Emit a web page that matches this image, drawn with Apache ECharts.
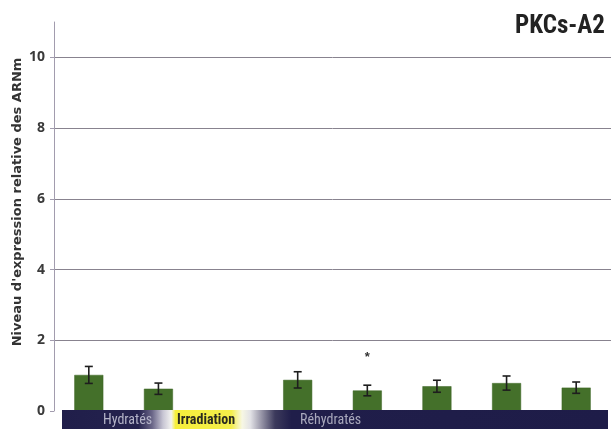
<!DOCTYPE html>
<html>
<head>
<meta charset="utf-8">
<script src="https://cdn.jsdelivr.net/npm/echarts@6/dist/echarts.min.js"></script>
<style>html,body{margin:0;padding:0;background:#fff}#c{width:611px;height:429px}</style>
</head>
<body>
<div id="c"></div>
<script>
var categories = ['Hydratés 1', 'Hydratés 2', 'Irradiation', 'Réhydratés 1', 'Réhydratés 2', 'Réhydratés 3', 'Réhydratés 4', 'Réhydratés 5'];
var values = [1.02, 0.63, null, 0.88, 0.58, 0.70, 0.79, 0.66];
var errors = [0.24, 0.16, null, 0.23, 0.15, 0.17, 0.20, 0.16];
var significance = ['', '', '', '', '*', '', '', ''];
var yTicks = [0, 2, 4, 6, 8, 10];
var title = 'PKCs-A2';
var yName = "Niveau d'expression relative des ARNm";
var bandLabels = ['Hydratés', 'Irradiation', 'Réhydratés'];

var chart = echarts.init(document.getElementById('c'));
var narrow = '"Liberation Sans Narrow", "Roboto Condensed", "Arial Narrow", sans-serif';

var errData = values.map(function (v, i) {
  return v == null ? [i, null, null, ''] : [i, v - errors[i], v + errors[i], significance[i]];
});

chart.setOption({
  animation: false,
  grid: { left: 54, right: -7, top: 22, bottom: 18, containLabel: false },
  xAxis: {
    type: 'category',
    data: categories,
    axisLine: { show: false },
    axisTick: { show: false },
    axisLabel: { show: false },
    splitLine: { show: false }
  },
  yAxis: {
    type: 'value',
    min: 0,
    max: 11,
    interval: 2,
    axisLine: { show: true, lineStyle: { color: '#a29cae', width: 1 } },
    axisTick: { show: true, length: 4, lineStyle: { color: '#a29cae' } },
    axisLabel: {
      margin: 9,
      color: '#3a3a3a',
      fontSize: 14,
      fontWeight: 'bold',
      fontFamily: '"Open Sans", sans-serif',
      showMaxLabel: false,
      formatter: function (v) { return yTicks.indexOf(v) >= 0 ? String(v) : ''; }
    },
    splitLine: { show: true, showMinLine: false, showMaxLine: false, lineStyle: { color: '#88838f', width: 1 } }
  },
  series: [
    {
      type: 'bar',
      data: values,
      barWidth: 29,
      itemStyle: { color: '#44702a', borderColor: '#3a6322', borderWidth: 0.5 },
      z: 2
    },
    {
      type: 'custom',
      data: errData,
      z: 3,
      renderItem: function (params, api) {
        var lo = api.value(1), hi = api.value(2);
        if (lo == null || isNaN(lo)) return { type: 'group', children: [] };
        var pLo = api.coord([api.value(0), lo]);
        var pHi = api.coord([api.value(0), hi]);
        var x = pLo[0], cap = 4;
        var st = { stroke: '#1e1e1e', lineWidth: 1.6 };
        var children = [
          { type: 'line', shape: { x1: x, y1: pLo[1], x2: x, y2: pHi[1] }, style: st },
          { type: 'line', shape: { x1: x - cap, y1: pLo[1], x2: x + cap, y2: pLo[1] }, style: st },
          { type: 'line', shape: { x1: x - cap, y1: pHi[1], x2: x + cap, y2: pHi[1] }, style: st }
        ];
        var sig = errData[params.dataIndex][3];
        if (sig) {
          children.push({ type: 'text', x: x, y: pHi[1] - 28, style: { text: sig, fill: '#333', fontSize: 13, fontWeight: 'bold', align: 'center', verticalAlign: 'middle' } });
        }
        return { type: 'group', children: children };
      }
    }
  ],
  graphic: [
    {
      type: 'text', left: 515, top: 14,
      style: { text: title, fill: '#222', fontSize: 25, fontWeight: 'bold', fontFamily: narrow }
    },
    {
      type: 'text', x: 18, y: 202, rotation: Math.PI / 2,
      style: { text: yName, fill: '#333', fontSize: 13, fontWeight: 'bold', fontFamily: '"DejaVu Sans", sans-serif', align: 'center', verticalAlign: 'middle' }
    },
    {
      type: 'rect', shape: { x: 62, y: 410, width: 546, height: 19 }, z: 10,
      style: {
        fill: new echarts.graphic.LinearGradient(0, 0, 1, 0, [
          { offset: 0, color: '#201e4a' },
          { offset: 0.14, color: '#24224e' },
          { offset: 0.165, color: '#6a6688' },
          { offset: 0.185, color: '#c8c6d4' },
          { offset: 0.2, color: '#f2f2f0' },
          { offset: 0.208, color: '#f6ef3c' },
          { offset: 0.31, color: '#f4ee4a' },
          { offset: 0.33, color: '#f7f7e4' },
          { offset: 0.345, color: '#e2e2e6' },
          { offset: 0.365, color: '#9896a8' },
          { offset: 0.39, color: '#3c3a5c' },
          { offset: 0.42, color: '#201e4a' },
          { offset: 1, color: '#1e1c48' }
        ])
      }
    },
    {
      type: 'text', x: 103, y: 420, z: 11,
      style: { text: bandLabels[0], fill: '#b4b4c8', fontSize: 14, fontFamily: narrow, verticalAlign: 'middle' }
    },
    {
      type: 'text', x: 177, y: 420, z: 11,
      style: { text: bandLabels[1], fill: '#2a2a20', fontSize: 14, fontWeight: 'bold', fontFamily: narrow, verticalAlign: 'middle' }
    },
    {
      type: 'text', x: 300, y: 420, z: 11,
      style: { text: bandLabels[2], fill: '#a8a8bc', fontSize: 14, fontFamily: narrow, verticalAlign: 'middle' }
    }
  ]
});
</script>
</body>
</html>
